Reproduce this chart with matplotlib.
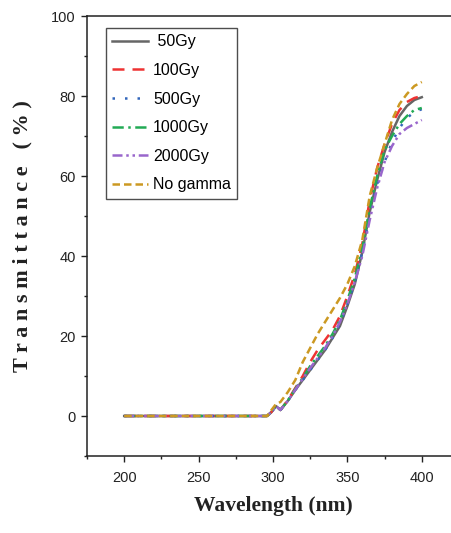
import matplotlib
matplotlib.use("Agg")
import matplotlib.pyplot as plt
from matplotlib.ticker import MultipleLocator

# wavelength grid (nm) and transmittance (%)
wavelength = [200, 250, 296, 299, 302, 305, 310, 315, 320, 325, 330, 335, 340,
              345, 350, 355, 360, 365, 370, 375, 380, 385, 390, 395, 400]

t_50gy = [0, 0, 0, 1.0, 2.5, 1.5, 3.8, 6.5, 9.0, 11.5, 14.0, 16.5, 19.5,
          22.5, 27.5, 33.0, 41.0, 51.0, 59.0, 66.0, 71.0, 75.0, 77.5, 79.0, 79.7]
t_100gy = [0, 0, 0, 1.0, 2.5, 1.5, 4.0, 7.0, 10.0, 13.5, 16.5, 19.0, 21.5,
           25.0, 30.0, 35.5, 43.0, 54.0, 62.0, 68.0, 73.0, 76.5, 78.5, 79.5, 80.0]
t_500gy = [0, 0, 0, 1.0, 2.5, 1.5, 3.8, 6.5, 9.0, 11.5, 14.0, 16.5, 19.5,
           23.0, 28.0, 33.5, 41.0, 50.0, 58.0, 63.5, 68.5, 72.0, 74.5, 76.0, 76.7]
t_1000gy = [0, 0, 0, 1.0, 2.5, 1.5, 3.9, 6.8, 9.5, 12.5, 15.0, 17.5, 20.5,
            24.0, 29.0, 34.5, 42.0, 52.0, 60.0, 66.5, 70.0, 73.0, 75.0, 76.5, 77.0]
t_2000gy = [0, 0, 0, 1.0, 2.5, 1.5, 3.8, 6.6, 9.3, 12.0, 14.5, 17.0, 20.0,
            23.5, 28.0, 33.5, 40.0, 49.0, 57.0, 63.5, 67.5, 70.5, 72.0, 73.0, 74.0]
t_no_gamma = [0, 0, 0, 1.5, 3.0, 3.5, 6.0, 9.0, 13.5, 17.0, 20.5, 23.5, 26.5,
              29.5, 33.0, 37.5, 44.0, 55.0, 62.0, 68.0, 74.0, 78.0, 80.5, 82.5, 83.5]

series = [
    (" 50Gy", t_50gy, "#666666", "-"),
    ("100Gy", t_100gy, "#ee3333", (0, (4.8, 3.2))),
    ("500Gy", t_500gy, "#3366bb", (0, (1, 4))),
    ("1000Gy", t_1000gy, "#22aa55", (0, (4.5, 1.8, 1, 1.8))),
    ("2000Gy", t_2000gy, "#9966cc", (0, (4, 1.5, 1, 1.5, 1, 1.5))),
    ("No gamma", t_no_gamma, "#cc9922", (0, (3, 1.6))),
]

fig = plt.figure(figsize=(4.52, 5.33), dpi=100)
# axes run past the right edge, as in the cropped original
ax = fig.add_axes([87 / 452, 77 / 533, 372 / 452, 440 / 533])

for label, vals, color, ls in series:
    ax.plot(wavelength, vals, color=color, linestyle=ls, linewidth=1.8, label=label)

ax.set_xlim(175, 425)
ax.set_ylim(-10, 100)
ax.xaxis.set_major_locator(MultipleLocator(50))
ax.xaxis.set_minor_locator(MultipleLocator(25))
ax.yaxis.set_major_locator(MultipleLocator(20))
ax.yaxis.set_minor_locator(MultipleLocator(10))

for s in ax.spines.values():
    s.set_linewidth(1.1)
    s.set_color("#222222")
ax.tick_params(which="major", direction="out", length=4, width=1.0, color="#222222")
ax.tick_params(which="minor", direction="out", length=2.5, width=1.0, color="#222222")
ax.tick_params(axis="x", which="major", pad=7)
ax.tick_params(axis="y", which="major", pad=4)
for lab in ax.get_xticklabels() + ax.get_yticklabels():
    lab.set_fontfamily("Liberation Sans")
    lab.set_fontsize(10.5)
    lab.set_color("#222222")

ax.set_xlabel("Wavelength (nm)", family="Liberation Serif", fontweight="bold",
              fontsize=15.5, color="#222222", labelpad=8)
ax.set_ylabel("T r a n s m i t t a n c e   ( % )", family="Liberation Serif",
              fontweight="bold", fontsize=16, color="#222222", labelpad=10)
ax.yaxis.set_label_coords(-55 / 372, 0.5)

leg = ax.legend(loc="upper left", bbox_to_anchor=(19 / 372, 1 - 12 / 440),
                borderaxespad=0, frameon=True, fancybox=False,
                prop={"family": "Liberation Sans", "size": 11.5},
                handlelength=2.2, handletextpad=0.35, labelspacing=0.85,
                borderpad=0.4)
leg.get_frame().set_edgecolor("#222222")
leg.get_frame().set_linewidth(1.0)

fig.savefig("out.png", dpi=100)
